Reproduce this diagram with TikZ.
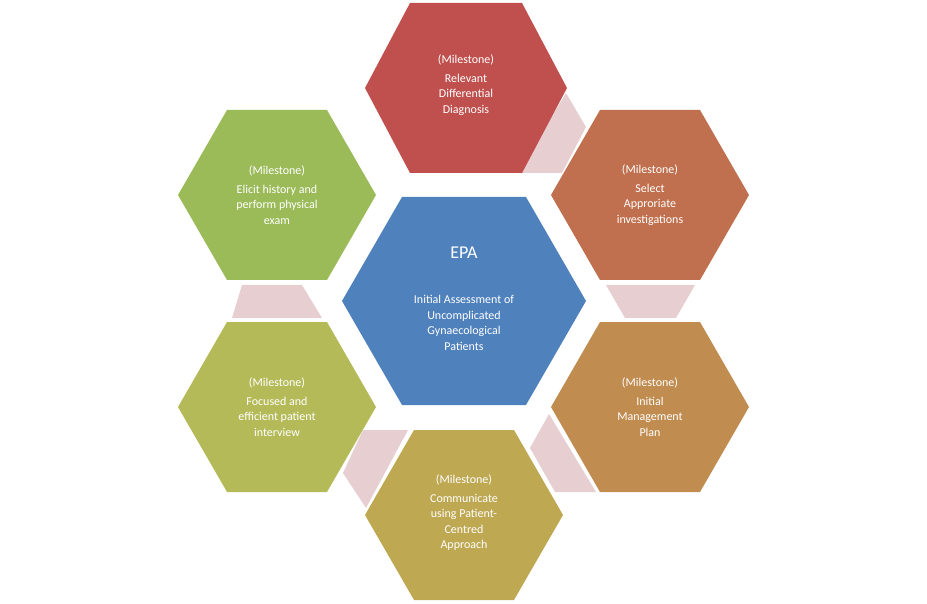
\documentclass[tikz,border=0pt]{standalone}
\usepackage{fontspec}
\setmainfont{Carlito}
\definecolor{cA}{HTML}{C0504D}
\definecolor{cB}{HTML}{C0704E}
\definecolor{cC}{HTML}{C08C50}
\definecolor{cD}{HTML}{BEA852}
\definecolor{cE}{HTML}{B5BA58}
\definecolor{cF}{HTML}{9BBB59}
\definecolor{cM}{HTML}{4F81BD}
\definecolor{pk}{HTML}{E6CED1}
\newcommand{\myhex}[5]{% cx cy halfw topa halfh
  (#1-#3,#2) -- (#1-#4,#2-#5) -- (#1+#4,#2-#5) -- (#1+#3,#2) -- (#1+#4,#2+#5) -- (#1-#4,#2+#5) -- cycle}
\begin{document}
\begin{tikzpicture}[x=1pt,y=-1pt,
  lbl/.style={text=white,align=center,font=\fontsize{12}{15.5}\selectfont}]
\useasboundingbox (0,0) rectangle (927,604);
% connectors
\fill[pk] (566,93) -- (586,127) -- (562,173) -- (518,173) -- cycle;
\fill[pk] (606,285) -- (695,285) -- (676,318) -- (625,318) -- cycle;
\fill[pk] (549,414) -- (596,492) -- (555,492) -- (530,448) -- cycle;
\fill[pk] (242,285) -- (302,285) -- (322,318) -- (232,318) -- cycle;
\fill[pk] (363,430) -- (408,430) -- (366,508) -- (343,473) -- cycle;
% hexagons
\fill[cA] \myhex{466}{88}{101}{56}{85};
\fill[cB] \myhex{650}{195}{99}{50}{85};
\fill[cC] \myhex{650}{407}{99}{50}{85};
\fill[cD] \myhex{464}{515}{99}{50}{85};
\fill[cE] \myhex{277}{407}{99}{50}{85};
\fill[cF] \myhex{277}{195}{99}{50}{85};
\fill[cM] \myhex{464}{301}{122}{62}{104};
% texts
\node[lbl] (t1) at (466,85) {(Milestone)\\[3pt]Relevant\\Differential\\Diagnosis};
\node[lbl] (t2) at (650,195) {(Milestone)\\[3pt]Select\\Approriate\\investigations};
\node[lbl] (t3) at (650,407) {(Milestone)\\[3pt]Initial\\Management\\Plan};
\node[lbl] (t4) at (464,513) {(Milestone)\\[3pt]Communicate\\using Patient-\\Centred\\Approach};
\node[lbl] (t5) at (277,407) {(Milestone)\\[3pt]Focused and\\efficient patient\\interview};
\node[lbl] (t6) at (277,195) {(Milestone)\\[3pt]Elicit history and\\perform physical\\exam};
\node[lbl] (c0) at (464,253) {\fontsize{18}{20}\selectfont EPA};
\node[lbl] (c1) at (464,323) {Initial Assessment of\\Uncomplicated\\Gynaecological\\Patients};
\end{tikzpicture}
\end{document}
